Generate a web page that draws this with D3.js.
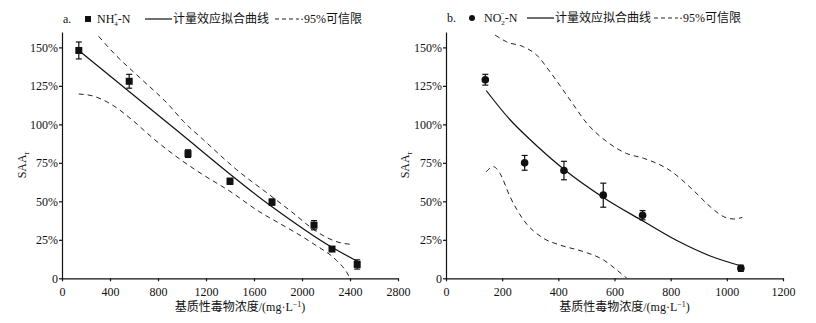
<!DOCTYPE html>
<html>
<head>
<meta charset="utf-8">
<script src="https://cdn.jsdelivr.net/npm/d3@7"></script>
<style>
  body { margin: 0; background: #fff; }
  svg text { font-family: "Liberation Serif", "Noto Sans CJK SC", serif; fill: #111; }
</style>
</head>
<body>
<svg id="chart" width="816" height="323"></svg>
<script>
"use strict";

// panel a: NH4+-N
const nhX = [140, 560, 1050, 1400, 1750, 2100, 2250, 2460];
const nhY = [148, 128, 81, 63, 49.5, 34.5, 19, 9];
const nhErr = [5.5, 4.5, 2.5, 2, 2, 3, 1.2, 3];
const nhFitX = [140, 917, 1733, 2242, 2456];
const nhFitY = [148, 98.6, 47.5, 20.5, 11.3];
const nhUpX = [305, 444, 667, 889, 1011, 1178, 1456, 1733, 1928, 2100, 2206, 2300, 2420];
const nhUpY = [157.2, 145.3, 129, 112.7, 102, 90, 70.5, 54, 42.3, 31.5, 26.5, 23.5, 22];
const nhLoX = [139, 250, 417, 583, 750, 928, 1150, 1400, 1650, 1817, 2094, 2289, 2372, 2400];
const nhLoY = [119.7, 118.6, 112.7, 103, 91.5, 80.5, 68.5, 56.5, 43, 35.5, 22.5, 11.5, 4, 0];

// panel b: NO2--N
const noX = [140, 280, 420, 560, 700, 1050];
const noY = [129, 75, 70, 54, 41, 6.5];
const noErr = [3.5, 4.8, 6, 7.8, 3, 2];
const noFitX = [143, 228, 300, 422, 560, 703, 822, 941, 1052];
const noFitY = [122, 103, 90, 70.5, 52.5, 37, 24.5, 14.5, 8];
const noUpX = [175, 216, 276, 323, 371, 442, 502, 573, 644, 703, 798, 880, 941, 989, 1025, 1055];
const noUpY = [158, 153.6, 150.4, 145, 134, 115.8, 100.6, 88.7, 81, 78, 70, 57.3, 46.5, 40, 38.5, 39.6];
const noLoX = [143, 169, 192, 228, 276, 347, 406, 490, 561, 608, 644];
const noLoY = [69.2, 72.5, 68.2, 53, 37.9, 26, 21.6, 17.3, 11.9, 5.4, 0];

const yTicks = [0, 25, 50, 75, 100, 125, 150];
const nhTicks = [0, 400, 800, 1200, 1600, 2000, 2400, 2800];
const noTicks = [0, 200, 400, 600, 800, 1000, 1200];

const svg = d3.select("#chart");

const yScale = d3.scaleLinear().domain([0, 160]).range([278.3, 32]);

function zip(xs, ys) { return xs.map((x, i) => [x, ys[i]]); }

function drawPanel(opt) {
  const x = d3.scaleLinear().domain(opt.xDomain).range(opt.xRange);
  const g = svg.append("g");

  g.append("g")
    .attr("transform", `translate(0,${yScale(0)})`)
    .call(d3.axisBottom(x).tickValues(opt.xTicks).tickSize(3).tickSizeOuter(0).tickFormat(d3.format("d")))
    .call(a => a.selectAll("text").attr("dy", "0.95em").style("font-size", "12px"));

  g.append("g")
    .attr("transform", `translate(${opt.xRange[0]},0)`)
    .call(d3.axisLeft(yScale).tickValues(yTicks).tickSize(3).tickSizeOuter(0)
      .tickFormat(d => d === 0 ? "0" : d + "%"))
    .call(a => a.selectAll("text").attr("x", -4).style("font-size", "12px"));

  g.selectAll(".domain, .tick line").attr("stroke", "#111").attr("stroke-width", 1.2);
  g.selectAll(".tick text").attr("fill", "#111");

  const line = d3.line().x(d => x(d[0])).y(d => yScale(d[1])).curve(d3.curveMonotoneX);

  g.append("path").datum(zip(opt.fitX, opt.fitY))
    .attr("fill", "none").attr("stroke", "#111").attr("stroke-width", 1.2).attr("d", line);
  [[opt.upX, opt.upY], [opt.loX, opt.loY]].forEach(([xs, ys]) => {
    g.append("path").datum(zip(xs, ys))
      .attr("fill", "none").attr("stroke", "#222").attr("stroke-width", 1)
      .attr("stroke-dasharray", "5,4").attr("d", line);
  });

  // error bars
  const pts = opt.px.map((v, i) => ({x: v, y: opt.py[i], e: opt.err[i]}));
  const eb = g.selectAll(".eb").data(pts).join("g");
  eb.append("line")
    .attr("x1", d => x(d.x)).attr("x2", d => x(d.x))
    .attr("y1", d => yScale(d.y + d.e)).attr("y2", d => yScale(d.y - d.e))
    .attr("stroke", "#111").attr("stroke-width", 1.2);
  [1, -1].forEach(s => {
    eb.append("line")
      .attr("x1", d => x(d.x) - 3).attr("x2", d => x(d.x) + 3)
      .attr("y1", d => yScale(d.y + s * d.e)).attr("y2", d => yScale(d.y + s * d.e))
      .attr("stroke", "#111").attr("stroke-width", 1.2);
  });

  if (opt.shape === "square") {
    g.selectAll(".mk").data(pts).join("rect")
      .attr("x", d => x(d.x) - 3.5).attr("y", d => yScale(d.y) - 3.5)
      .attr("width", 7).attr("height", 7).attr("fill", "#111");
  } else {
    g.selectAll(".mk").data(pts).join("circle")
      .attr("cx", d => x(d.x)).attr("cy", d => yScale(d.y)).attr("r", 3.8).attr("fill", "#111");
  }

  // axis titles
  const yl = g.append("text")
    .attr("transform", `translate(${opt.yLabelX},165) rotate(-90)`)
    .attr("text-anchor", "middle").style("font-size", "12px");
  yl.append("tspan").text("SAA");
  yl.append("tspan").attr("dy", 3).style("font-size", "8px").text("r");

  const xl = g.append("text")
    .attr("x", (opt.xRange[0] + opt.xRange[1]) / 2 + 10).attr("y", 311)
    .attr("text-anchor", "middle").style("font-size", "12px");
  xl.append("tspan").text("基质性毒物浓度/(mg·L");
  xl.append("tspan").attr("dy", -4).style("font-size", "8px").text("−1");
  xl.append("tspan").attr("dy", 4).text(")");

  // legend
  const ly = opt.legendY;
  g.append("text").attr("x", opt.xRange[0] + 1).attr("y", ly).style("font-size", "12px").text(opt.tag);
  if (opt.shape === "square") {
    g.append("rect").attr("x", opt.lg[0] - 3).attr("y", ly - 7).attr("width", 6).attr("height", 6).attr("fill", "#111");
  } else {
    g.append("circle").attr("cx", opt.lg[0]).attr("cy", ly - 4).attr("r", 3).attr("fill", "#111");
  }
  const nt = g.append("text").attr("x", opt.lg[1]).attr("y", ly).style("font-size", "12px");
  nt.append("tspan").text(opt.ion);
  nt.append("tspan").attr("dy", 3).style("font-size", "7px").text(opt.sub);
  nt.append("tspan").attr("dx", -4).attr("dy", -9).style("font-size", "7px").text(opt.sup);
  nt.append("tspan").attr("dy", 6).text("-N");

  g.append("line").attr("x1", opt.lg[2]).attr("x2", opt.lg[2] + 27)
    .attr("y1", ly - 4).attr("y2", ly - 4).attr("stroke", "#111").attr("stroke-width", 1.2);
  g.append("text").attr("x", opt.lg[2] + 28).attr("y", ly).style("font-size", "12px").text("计量效应拟合曲线");
  g.append("line").attr("x1", opt.lg[3]).attr("x2", opt.lg[3] + 24)
    .attr("y1", ly - 4).attr("y2", ly - 4).attr("stroke", "#222").attr("stroke-width", 1)
    .attr("stroke-dasharray", "4,3");
  g.append("text").attr("x", opt.lg[3] + 25).attr("y", ly).style("font-size", "12px").text("·95%可信限");
}

drawPanel({
  xDomain: [0, 2800], xRange: [62, 398], xTicks: nhTicks,
  px: nhX, py: nhY, err: nhErr, shape: "square",
  fitX: nhFitX, fitY: nhFitY, upX: nhUpX, upY: nhUpY, loX: nhLoX, loY: nhLoY,
  yLabelX: 26, legendY: 23, tag: "a.", ion: "NH", sub: "4", sup: "+",
  lg: [88, 97, 145, 275]
});

drawPanel({
  xDomain: [0, 1200], xRange: [446, 783], xTicks: noTicks,
  px: noX, py: noY, err: noErr, shape: "circle",
  fitX: noFitX, fitY: noFitY, upX: noUpX, upY: noUpY, loX: noLoX, loY: noLoY,
  yLabelX: 409, legendY: 22, tag: "b.", ion: "NO", sub: "2", sup: "−",
  lg: [472, 484, 527, 654]
});
</script>
</body>
</html>
